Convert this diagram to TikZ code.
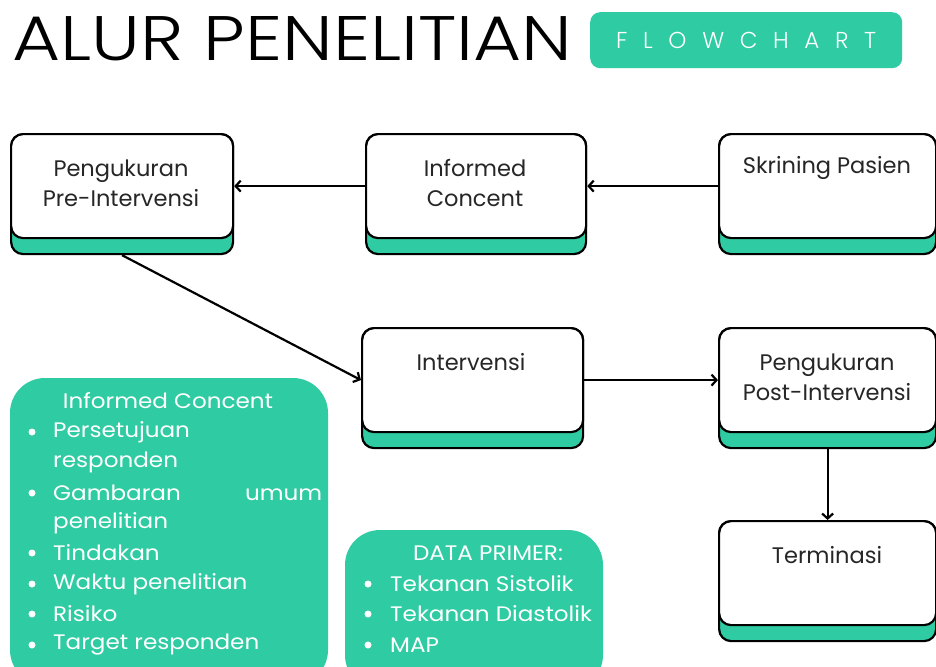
\documentclass[tikz,border=0pt]{standalone}
\usepackage{fontspec}
\setmainfont{Poppins}
\newfontfamily\titlefont{Poppins}[UprightFont={* Light}]
\newfontfamily\widefont{Poppins}[FakeStretch=1.1]
\usetikzlibrary{arrows.meta}
\definecolor{tosca}{RGB}{47,203,163}
\begin{document}
\begin{tikzpicture}[x=1pt,y=-1pt,
  base/.style={draw=black, line width=2.2pt, fill=tosca, rounded corners=12pt, inner sep=0pt, anchor=north west, minimum height=120pt},
  face/.style={draw=black, line width=2.2pt, fill=white, rounded corners=12pt, inner sep=0pt, anchor=north west, minimum height=104pt},
  boxtext/.style={align=center, font=\fontsize{22.5}{30}\selectfont, text=black!85, inner sep=0pt},
  paneltext/.style={font=\widefont\fontsize{21}{24}\selectfont, text=white, inner sep=0pt, anchor=west},
  panelhead/.style={font=\widefont\fontsize{21}{24}\selectfont, text=white, inner sep=0pt},
  panel/.style={fill=tosca, rounded corners=35pt},
  dot/.style={circle, fill=white, inner sep=0pt, minimum size=7pt},
  arr/.style={line width=2.2pt, -{Straight Barb[length=5pt,width=11pt,line width=2.2pt]}}
]
\useasboundingbox (0,0) rectangle (936,666);
\fill[white] (0,0) rectangle (936,666);

% title
\node[anchor=north west, inner sep=0pt] (title) at (12,16) {\resizebox{560pt}{44pt}{\titlefont ALUR PENELITIAN}};
\node[fill=tosca, rounded corners=10pt, minimum width=312pt, minimum height=56pt, inner sep=0pt, anchor=north west] (badge) at (590,12) {};
\node[text=white, inner sep=0pt, font=\titlefont\fontsize{23}{23}\selectfont] (badgetext) at (badge.center) {\hbox to 260pt{F\hfill L\hfill O\hfill W\hfill C\hfill H\hfill A\hfill R\hfill T}};

% boxes
\node[base, minimum width=222pt] (pre-base) at (10,133) {};
\node[face, minimum width=222pt] (pre) at (10,133) {};
\node[boxtext] (pre-t) at (121,183) {Pengukuran\\Pre-Intervensi};

\node[base, minimum width=220pt] (ic-base) at (365,133) {};
\node[face, minimum width=220pt] (ic) at (365,133) {};
\node[boxtext] (ic-t) at (475,183) {Informed\\Concent};

\node[base, minimum width=217pt] (skr-base) at (718,133) {};
\node[face, minimum width=217pt] (skr) at (718,133) {};
\node[boxtext] (skr-t) at (827,168) {Skrining Pasien};

\node[base, minimum width=221pt] (intv-base) at (361,327) {};
\node[face, minimum width=221pt] (intv) at (361,327) {};
\node[boxtext] (intv-t) at (471,362) {Intervensi};

\node[base, minimum width=217pt] (post-base) at (718,327) {};
\node[face, minimum width=217pt] (post) at (718,327) {};
\node[boxtext] (post-t) at (827,377) {Pengukuran\\Post-Intervensi};

\node[base, minimum width=217pt] (term-base) at (718,520) {};
\node[face, minimum width=217pt] (term) at (718,520) {};
\node[boxtext] (term-t) at (827,555) {Terminasi};

% connectors
\draw[arr] (skr.west) -- (ic.east);
\draw[arr] (ic.west) -- (pre.east);
\draw[arr] (pre-base.south) -- (intv.west);
\draw[arr] (intv.east) -- (post.west);
\draw[arr] (post-base.south) -- (term.north);

% informed concent panel
\fill[panel] (10,378) rectangle (328,685);
\node[panelhead] (ich) at (168,401) {Informed Concent};
\foreach \yy/\nm in {432/a,493/b,553/c,584/d,614/e,645/f} \node[dot] (icd-\nm) at (32,\yy) {};
\node[paneltext] (ic1) at (53,432) {Persetujuan};
\node[paneltext] (ic2) at (53,462) {responden};
\node[paneltext] (ic3) at (53,493) {\hbox to 269pt{Gambaran\hfill umum}};
\node[paneltext] (ic4) at (53,523) {penelitian};
\node[paneltext] (ic5) at (53,553) {Tindakan};
\node[paneltext] (ic6) at (53,584) {Waktu penelitian};
\node[paneltext] (ic7) at (53,614) {Risiko};
\node[paneltext] (ic8) at (53,645) {Target responden};

% data primer panel
\fill[panel] (345,530) rectangle (603,690);
\node[panelhead] (dph) at (488,553) {DATA PRIMER:};
\foreach \yy/\nm in {584/a,614/b,645/c} \node[dot] (dpd-\nm) at (368,\yy) {};
\node[paneltext] (dp1) at (390,584) {Tekanan Sistolik};
\node[paneltext] (dp2) at (390,614) {Tekanan Diastolik};
\node[paneltext] (dp3) at (390,645) {MAP};
\end{tikzpicture}
\end{document}
